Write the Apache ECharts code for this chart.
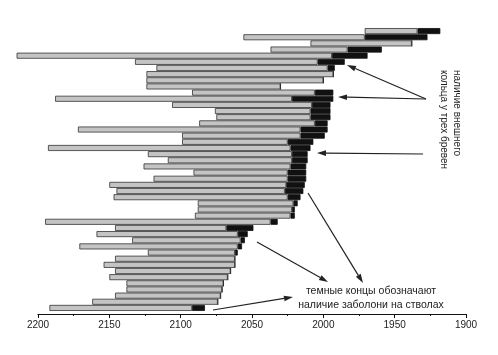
<!DOCTYPE html>
<html><head><meta charset="utf-8">
<script src="https://cdn.jsdelivr.net/npm/echarts@6/dist/echarts.min.js"></script>
<style>html,body{margin:0;padding:0;background:#fff}#c{width:498px;height:355px}</style>
</head><body><div id="c"></div>
<script>
// Tree-ring series (logs), top to bottom
const logIds = ['1','2','3','4','5','6','7','8','9','10','11','12','13','14','15','16','17','18','19','20','21','22','23','24','25','26','27','28','29','30','31','32','33','34','35','36','37','38','39','40','41','42','43','44','45','46'];
// earliest ring (left end of bar)
const startYears = [1971,2056,2009,2037,2215,2132,2117,2124,2124,2124,2092,2188,2106,2076,2075,2087,2172,2099,2099,2193,2123,2109,2126,2091,2119,2150,2145,2147,2088,2088,2090,2195,2146,2159,2134,2171,2123,2146,2154,2146,2150,2138,2138,2146,2162,2192];
// latest ring (right end of bar)
const endYears = [1918,1927,1938,1959,1969,1985,1992,1993,2000,2030,1993,1993,1995,1995,1995,1997,1997,1999,2007,2009,2011,2011,2012,2012,2012,2013,2014,2016,2018,2020,2020,2032,2049,2053,2055,2057,2060,2062,2062,2065,2067,2070,2071,2072,2074,2083];
// start of sapwood (dark end), null = none
const sapwoodStart = [1934,1971,null,1983,1994,2004,1997,null,null,null,2006,2022,2008,2009,2009,2006,2016,2016,2025,2023,2022,2022,2023,2025,2025,2026,2027,2025,2021,2022,2023,2037,2068,2060,2058,2060,2062,null,null,null,null,null,null,null,null,2092];
const axisMin = 1900, axisMax = 2200, axisStep = 50;

const darkPart = endYears.map((e,i)=> sapwoodStart[i]==null ? 0 : sapwoodStart[i]-e);
const lightPart = startYears.map((s,i)=> s - (sapwoodStart[i]==null ? endYears[i] : sapwoodStart[i]));

function arrow(x1,y1,x2,y2){
  const dx=x2-x1, dy=y2-y1, L=Math.hypot(dx,dy), ux=dx/L, uy=dy/L;
  const hl=9, hw=2.8;
  const bx=x2-ux*hl, by=y2-uy*hl;
  return [
    {type:'line',shape:{x1:x1,y1:y1,x2:bx,y2:by},style:{stroke:'#222',lineWidth:1.2}},
    {type:'polygon',shape:{points:[[x2,y2],[bx-uy*hw,by+ux*hw],[bx+uy*hw,by-ux*hw]]},style:{fill:'#222'}}
  ];
}
const graphics = [].concat(
  arrow(426,99,347,65),
  arrow(426,99,338,97),
  arrow(423,154,317,153),
  arrow(308,193,363,283),
  arrow(257,242,328,282),
  arrow(213,310,293,297),
  [
    {type:'text',x:463,y:70,rotation:-Math.PI/2,style:{text:'наличие внешнего\nкольца у трех бревен',font:'10px "Liberation Sans", Arial, sans-serif',fill:'#222',textAlign:'left',textVerticalAlign:'top',lineHeight:13}},
    {type:'text',x:371,y:291,style:{text:'темные концы обозначают',font:'10.5px "Liberation Sans", Arial, sans-serif',fill:'#222',textAlign:'center',textVerticalAlign:'middle'}},
    {type:'text',x:371,y:305,style:{text:'наличие заболони на стволах',font:'10.5px "Liberation Sans", Arial, sans-serif',fill:'#222',textAlign:'center',textVerticalAlign:'middle'}}
  ]
);

const chart = echarts.init(document.getElementById('c'),null,{renderer:'canvas'});
chart.setOption({
  animation:false,
  backgroundColor:'#fff',
  grid:{left:38,right:32,top:28,bottom:44},
  xAxis:{type:'value',min:axisMin,max:axisMax,interval:axisStep,inverse:true,offset:3,
    axisLine:{show:true,lineStyle:{color:'#111',width:1.2}},
    axisTick:{show:true,length:4,lineStyle:{color:'#111'}},
    minorTick:{show:true,splitNumber:2,length:2,lineStyle:{color:'#111'}},
    splitLine:{show:false},
    axisLabel:{color:'#222',fontSize:10,margin:6,fontFamily:'"Liberation Sans", Arial, sans-serif',formatter:v=>String(v)}},
  yAxis:{type:'category',data:logIds,inverse:true,show:false},
  graphic:graphics,
  series:[
    {type:'bar',stack:'a',data:endYears,barWidth:6,clip:false,silent:true,itemStyle:{color:'rgba(0,0,0,0)'}},
    {type:'bar',stack:'a',data:darkPart,barWidth:6,clip:false,itemStyle:{color:'#111',borderColor:'#111',borderWidth:0.8}},
    {type:'bar',stack:'a',data:lightPart,barWidth:6,clip:false,itemStyle:{color:'#c4c4c4',borderColor:'#333',borderWidth:0.8}}
  ]
});
</script></body></html>
